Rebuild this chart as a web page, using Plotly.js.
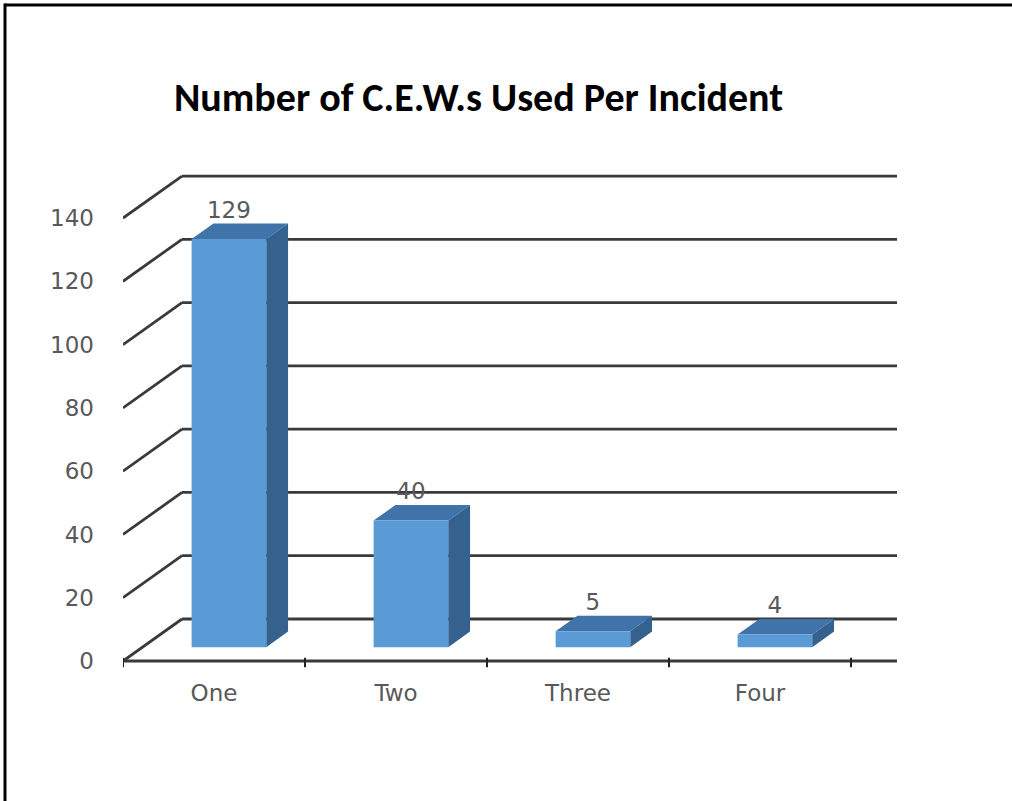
<!DOCTYPE html>
<html>
<head>
<meta charset="utf-8">
<script src="https://cdn.plot.ly/plotly-3.0.1.min.js"></script>
<style>
  html, body { margin: 0; padding: 0; background: #ffffff; }
  #chart { width: 1012px; height: 801px; }
</style>
</head>
<body>
<div id="chart"></div>
<script>
// ---- data ----
const categories = ['One', 'Two', 'Three', 'Four'];
const counts = [129, 40, 5, 4];
const yTickValues = [0, 20, 40, 60, 80, 100, 120, 140];
const chartTitle = 'Number of C.E.W.s Used Per Incident';

// ---- layout geometry (pixels) ----
const W = 1012, H = 801;
const mL = 123, mR = 115, mT = 170, mB = 131;
const plotW = W - mL - mR, plotH = H - mT - mB;
const catPx = 182;             // pixels per category
const valPx = 3.164;           // pixels per value unit
const zeroPx = 661;            // screen y of value 0 on the front plane
const xMin = -0.5, xMax = xMin + plotW / catPx;
const yMin = -((H - mB) - zeroPx) / valPx;
const yMax = (zeroPx - mT) / valPx;

// oblique depth offset (in data units) of the back wall
const OX = 59 / catPx;
const OY = 42 / valPx;
const f1 = 0.33, f2 = 0.70;    // bar front / back depth fractions
const halfW = 0.205;           // half bar width (category units)
const shiftX = -0.025;

const gridColor = '#3a3a3a';
const textColor = '#595959';
const frontColor = '#5b9bd5';
const topColor = '#3f73aa';
const sideColor = '#35618e';
const labelFont = 'DejaVu Sans, Verdana, sans-serif';

const traces = [];

// back wall gridlines
{
  const xs = [], ys = [];
  yTickValues.forEach(v => {
    xs.push(xMin + OX, xMax, null);
    ys.push(v + OY, v + OY, null);
  });
  traces.push({type: 'scatter', mode: 'lines', x: xs, y: ys,
    line: {color: gridColor, width: 2.8}, hoverinfo: 'skip', cliponaxis: false});
}
// left wall diagonals
{
  const xs = [], ys = [];
  yTickValues.forEach(v => {
    xs.push(xMin, xMin + OX, null);
    ys.push(v, v + OY, null);
  });
  traces.push({type: 'scatter', mode: 'lines', x: xs, y: ys,
    line: {color: gridColor, width: 2.8}, hoverinfo: 'skip', cliponaxis: false});
}

// bars as 3D boxes
const faceFront = {x: [], y: []}, faceTop = {x: [], y: []}, faceSide = {x: [], y: []};
const labX = [], labY = [];
counts.forEach((v, i) => {
  const c = i + f1 * OX + shiftX;
  const x0 = c - halfW, x1 = c + halfW;
  const y0 = f1 * OY, y1 = v + f1 * OY;
  const dx = (f2 - f1) * OX, dy = (f2 - f1) * OY;
  faceFront.x.push(x0, x1, x1, x0, x0, null);
  faceFront.y.push(y0, y0, y1, y1, y0, null);
  faceTop.x.push(x0, x1, x1 + dx, x0 + dx, x0, null);
  faceTop.y.push(y1, y1, y1 + dy, y1 + dy, y1, null);
  faceSide.x.push(x1, x1 + dx, x1 + dx, x1, x1, null);
  faceSide.y.push(y0, y0 + dy, y1 + dy, y1, y0, null);
  labX.push(c);
  labY.push(v + f2 * OY);
});
[[faceSide, sideColor], [faceTop, topColor], [faceFront, frontColor]].forEach(([p, col]) => {
  traces.push({type: 'scatter', mode: 'lines', x: p.x, y: p.y, fill: 'toself',
    fillcolor: col, line: {width: 0, color: col}, hoverinfo: 'skip'});
});

// front floor line
traces.push({type: 'scatter', mode: 'lines', x: [xMin, xMax], y: [0, 0],
  line: {color: gridColor, width: 2.8}, hoverinfo: 'skip', cliponaxis: false});
// tick marks at category boundaries
{
  const xs = [], ys = [];
  for (let k = 0; k <= categories.length; k++) {
    xs.push(xMin + k, xMin + k, null);
    ys.push(-2.0, 1.0, null);
  }
  traces.push({type: 'scatter', mode: 'lines', x: xs, y: ys,
    line: {color: '#222222', width: 2}, hoverinfo: 'skip', cliponaxis: false});
}
// value labels
traces.push({type: 'scatter', mode: 'text', x: labX, y: labY,
  text: counts.map(String), textposition: 'top center',
  textfont: {family: labelFont, size: 23, color: textColor},
  hoverinfo: 'skip', cliponaxis: false});

const px2paperX = p => (p - mL) / plotW;
const px2paperY = p => ((H - mB) - p) / plotH;

const layout = {
  width: W, height: H,
  margin: {l: mL, r: mR, t: mT, b: mB, pad: 0},
  paper_bgcolor: '#ffffff', plot_bgcolor: '#ffffff',
  showlegend: false,
  hovermode: false,
  title: {
    text: '<b>' + chartTitle + '</b>',
    font: {family: 'Carlito, Lato, "Open Sans", sans-serif', size: 40, color: '#000000'},
    xref: 'container', yref: 'container',
    x: 478.5 / W, xanchor: 'center',
    y: 1 - 97 / H, yanchor: 'middle'
  },
  xaxis: {
    range: [xMin, xMax], fixedrange: true,
    showgrid: false, zeroline: false, showline: false,
    tickmode: 'array', tickvals: categories.map((_, i) => i), ticktext: categories,
    ticks: '', ticklabelstandoff: 7,
    tickfont: {family: labelFont, size: 23, color: textColor}
  },
  yaxis: {
    range: [yMin, yMax], fixedrange: true,
    showgrid: false, zeroline: false, showline: false,
    tickmode: 'array', tickvals: yTickValues,
    ticks: '', ticklabelstandoff: 28,
    tickfont: {family: labelFont, size: 23, color: textColor}
  },
  shapes: [
    {type: 'line', xref: 'paper', yref: 'paper',
     x0: px2paperX(5), x1: px2paperX(W + 5), y0: px2paperY(5), y1: px2paperY(5),
     line: {color: '#000000', width: 3}},
    {type: 'line', xref: 'paper', yref: 'paper',
     x0: px2paperX(5), x1: px2paperX(5), y0: px2paperY(3.5), y1: px2paperY(H + 5),
     line: {color: '#000000', width: 3}}
  ]
};

Plotly.newPlot('chart', traces, layout, {displayModeBar: false, staticPlot: true});
</script>
</body>
</html>
